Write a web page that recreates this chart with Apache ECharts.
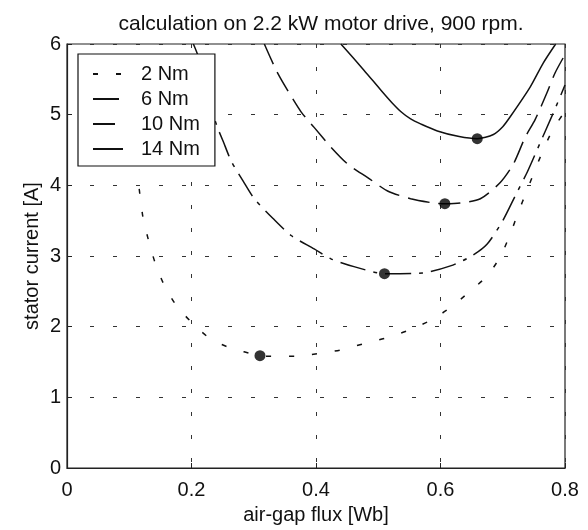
<!DOCTYPE html>
<html>
<head>
<meta charset="utf-8">
<script src="https://cdn.jsdelivr.net/npm/echarts@6/dist/echarts.min.js"></script>
<style>html,body{margin:0;padding:0;background:#fff}#c{width:588px;height:530px}</style>
</head>
<body>
<div id="c"></div>
<script>
// Data
const seriesNames = ['2 Nm', '6 Nm', '10 Nm', '14 Nm'];
const flux2 = [0.116,0.122,0.131,0.141,0.155,0.174,0.198,0.227,0.259,0.31,0.331,0.368,0.403,0.44,0.477,0.512,0.549,0.584,0.616,0.646,0.675,0.696,0.712,0.725,0.739,0.752,0.765,0.78,0.80];
const cur2  = [3.95,3.55,3.22,2.92,2.61,2.32,2.08,1.85,1.71,1.59,1.58,1.58,1.62,1.67,1.76,1.84,1.95,2.09,2.27,2.49,2.72,2.99,3.31,3.62,3.93,4.22,4.50,4.78,5.05];
const flux6 = [0.203,0.211,0.225,0.24,0.251,0.264,0.283,0.301,0.331,0.36,0.397,0.424,0.461,0.51,0.571,0.616,0.65,0.675,0.70,0.72,0.74,0.76,0.78,0.80];
const cur6  = [6.0,5.82,5.33,4.86,4.62,4.34,4.06,3.81,3.53,3.29,3.10,2.96,2.85,2.75,2.76,2.86,3.0,3.17,3.50,3.85,4.2,4.6,5.0,5.42];
const flux10 = [0.317,0.336,0.352,0.376,0.397,0.424,0.451,0.483,0.515,0.552,0.589,0.607,0.632,0.664,0.696,0.717,0.736,0.752,0.771,0.784,0.80];
const cur10  = [6.0,5.63,5.38,5.04,4.82,4.54,4.30,4.11,3.92,3.81,3.75,3.74,3.75,3.81,4.04,4.30,4.68,4.93,5.31,5.59,5.85];
const flux14 = [0.44,0.477,0.504,0.522,0.538,0.552,0.568,0.595,0.63,0.659,0.685,0.70,0.712,0.744,0.765,0.785];
const cur14  = [6.0,5.63,5.35,5.17,5.03,4.94,4.87,4.77,4.69,4.66,4.72,4.83,4.97,5.39,5.73,6.0];
const optFlux = [0.31,0.51,0.607,0.659];
const optCur  = [1.59,2.75,3.74,4.66];
const xTicks = [0, 0.2, 0.4, 0.6, 0.8];
const yTicks = [0, 1, 2, 3, 4, 5, 6];

const zip = (a, b) => a.map((v, i) => [v, b[i]]);
const FONT = 'Liberation Sans';
const dashes = [[5, 18], [26, 8, 4, 8], [22, 9], 'solid'];
const curves = [[flux2, cur2], [flux6, cur6], [flux10, cur10], [flux14, cur14]];

const chart = echarts.init(document.getElementById('c'), null, {renderer: 'canvas'});
const gridLine = {show: true, lineStyle: {color: '#333', width: 1, type: [4, 19]}};
chart.setOption({
  animation: false,
  backgroundColor: '#fff',
  color: ['#111', '#111', '#111', '#111'],
  textStyle: {fontFamily: FONT},
  title: {
    text: 'calculation on 2.2 kW motor drive, 900 rpm.',
    left: 316, top: 9, textAlign: 'center',
    textStyle: {fontFamily: FONT, fontSize: 21, fontWeight: 'normal', color: '#111'}
  },
  grid: {left: 67, right: 23, top: 44, bottom: 62, show: true, borderColor: '#222', borderWidth: 1.2},
  legend: {
    data: seriesNames,
    orient: 'vertical', left: 78, top: 54,
    backgroundColor: '#fff', borderColor: '#111', borderWidth: 1.2,
    padding: [10, 15, 7, 14],
    itemWidth: 30, itemHeight: 14, itemGap: 5,
    itemStyle: {opacity: 0},
    textStyle: {fontFamily: FONT, fontSize: 20, color: '#111', lineHeight: 20, padding: [0, 0, 0, 13]}
  },
  xAxis: {
    type: 'value', min: xTicks[0], max: xTicks[xTicks.length - 1], interval: 0.2,
    name: 'air-gap flux [Wb]', nameLocation: 'middle', nameGap: 37,
    nameTextStyle: {fontFamily: FONT, fontSize: 20, color: '#111'},
    axisLine: {show: true, lineStyle: {color: '#222', width: 1.2}},
    axisTick: {show: true, inside: true, length: 5, lineStyle: {color: '#222'}},
    axisLabel: {fontFamily: FONT, fontSize: 20, color: '#111', margin: 12},
    splitLine: gridLine
  },
  yAxis: {
    type: 'value', min: yTicks[0], max: yTicks[yTicks.length - 1], interval: 1,
    name: 'stator current [A]', nameLocation: 'middle', nameGap: 25,
    nameMoveOverlap: false,
    nameTextStyle: {fontFamily: FONT, fontSize: 20, color: '#111'},
    axisLine: {show: true, lineStyle: {color: '#222', width: 1.2}},
    axisTick: {show: true, inside: true, length: 5, lineStyle: {color: '#222'}},
    axisLabel: {fontFamily: FONT, fontSize: 20, color: '#111', margin: 6},
    splitLine: gridLine
  },
  series: curves.map((c, i) => ({
    name: seriesNames[i], type: 'line', data: zip(c[0], c[1]),
    showSymbol: false, symbol: 'none', smooth: 0.25, clip: true,
    itemStyle: {color: '#111'},
    lineStyle: {color: '#111', width: 1.5, type: dashes[i]}
  })).concat([{
    type: 'scatter', data: zip(optFlux, optCur), symbol: 'circle', symbolSize: 11,
    itemStyle: {color: '#000'}, z: 5
  }])
});
</script>
</body>
</html>
